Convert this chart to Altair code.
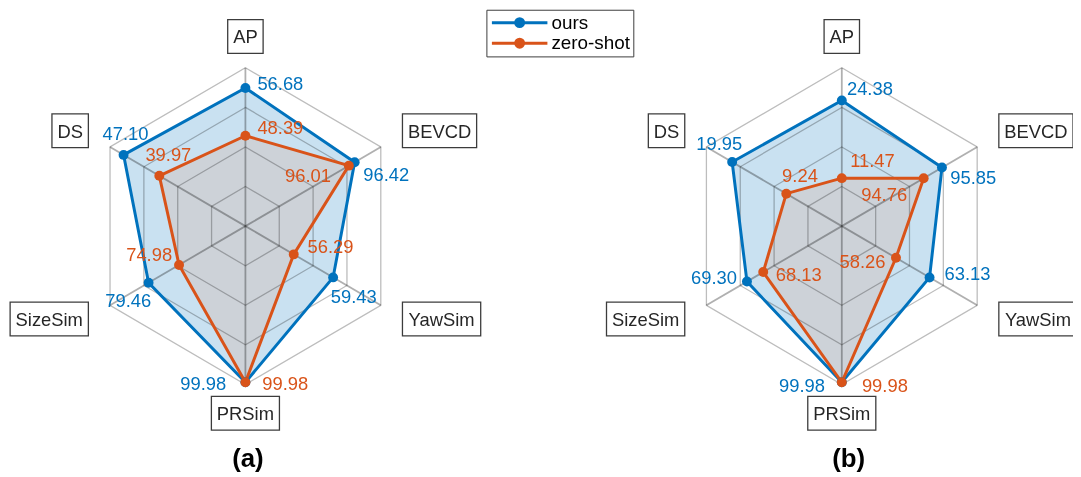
import math
import altair as alt
import pandas as pd

# ---------------- data ----------------
axes_names = ["AP", "BEVCD", "YawSim", "PRSim", "SizeSim", "DS"]
series_names = ["ours", "zero-shot"]
panel_names = ["(a)", "(b)"]

ours_a = [56.68, 96.42, 59.43, 99.98, 79.46, 47.10]
zeroshot_a = [48.39, 96.01, 56.29, 99.98, 74.98, 39.97]
ours_b = [24.38, 95.85, 63.13, 99.98, 69.30, 19.95]
zeroshot_b = [11.47, 94.76, 58.26, 99.98, 68.13, 9.24]

# per-axis limits of each radar (value -> radius)
axis_min_a = [32.72, 88.73, 52.44, 98.50, 65.22, 22.80]
axis_max_a = [60.17, 98.26, 63.23, 100.00, 85.13, 49.80]
axis_min_b = [3.50, 89.88, 50.40, 98.50, 62.47, -1.74]
axis_max_b = [29.79, 97.95, 70.04, 100.00, 72.22, 25.04]

grid_levels = [0.25, 0.5, 0.75, 1.0]
series_colors = ["#0072BD", "#D95319"]

# ---------------- layout ----------------
W, H = 1073, 469
PX_X, PX_Y = 157.5, 159.5           # pixels per radius unit
PANEL_SHIFT = 3.815                  # horizontal distance between radar centres
X_MIN = -1.5187
Y_MAX = 1.3668
X_MAX = X_MIN + W / PX_X
Y_MIN = Y_MAX - H / PX_Y
FONT = "Liberation Sans"
LABEL_SIZE = 18.5

# value-label offsets (px, text centre relative to its marker), axis order as axes_names
label_offsets = {
    (0, 0): [(35.2, -5), (31.9, 11.6), (20.8, 19), (-42.5, 1), (-20.5, 17.6), (1.9, -22.3)],
    (0, 1): [(35.2, -8.3), (-41.2, 9.7), (37, -8.3), (40.2, 1), (-30.1, -10.7), (9.1, -21.7)],
    (1, 0): [(28.3, -12.6), (31.5, 10), (38.2, -4.3), (-40.1, 2.7), (-33.2, -4.3), (-13, -19.3)],
    (1, 1): [(30.9, -18.4), (-39.8, 16), (-33.7, 3.3), (43.4, 2.7), (35.8, 1.6), (13.8, -19)],
}
title_dx = [2.5, 7.0]
TITLE_Y_PX = 461

# Arial / Liberation Sans advance widths (1/1000 em) to size the label boxes
CHAR_W = {"A": 667, "P": 667, "B": 667, "E": 667, "V": 667, "C": 722, "D": 722,
          "Y": 667, "a": 556, "w": 722, "S": 667, "i": 222, "m": 833, "R": 722,
          "z": 500, "e": 556}


def text_width(s, size):
    return sum(CHAR_W.get(c, 556) for c in s) / 1000.0 * size


values = {(0, 0): ours_a, (0, 1): zeroshot_a, (1, 0): ours_b, (1, 1): zeroshot_b}
limits = {0: (axis_min_a, axis_max_a), 1: (axis_min_b, axis_max_b)}
angles = [i * 2 * math.pi / len(axes_names) for i in range(len(axes_names))]

rows = []
for p, pname in enumerate(panel_names):
    lo, hi = limits[p]
    cx = p * PANEL_SHIFT
    for s, sname in enumerate(series_names):
        vals = values[(p, s)]
        for i, a in enumerate(axes_names):
            r = (vals[i] - lo[i]) / (hi[i] - lo[i])
            x = cx + r * math.sin(angles[i])
            y = r * math.cos(angles[i])
            dx, dy = label_offsets[(p, s)][i]
            rows.append(dict(panel=pname, series=sname, axis=a, idx=i, value=vals[i],
                             x=x, y=y, lx=x + dx / PX_X, ly=y - (dy + 1) / PX_Y,
                             text=f"{vals[i]:.2f}"))
df = pd.DataFrame(rows)
df_ours = df[df.series == "ours"]
df_zs = df[df.series == "zero-shot"]

ring_rows, spoke_rows, box_rows, title_rows = [], [], [], []
for p, pname in enumerate(panel_names):
    cx = p * PANEL_SHIFT
    for lv in grid_levels:
        for i, a in enumerate(axes_names):
            ring_rows.append(dict(panel=pname, level=lv, idx=i,
                                  x=cx + lv * math.sin(angles[i]), y=lv * math.cos(angles[i])))
    for i, a in enumerate(axes_names):
        spoke_rows.append(dict(panel=pname, axis=a, x=cx, y=0.0,
                               x2=cx + math.sin(angles[i]), y2=math.cos(angles[i])))
        sx, cy_ = math.sin(angles[i]), math.cos(angles[i])
        bw = (text_width(a, LABEL_SIZE) + 11) / PX_X
        bh = 17.0 / PX_Y
        ax_ = cx + 1.16 * sx
        ay_ = 1.19 * cy_ + 0.008
        if sx > 0.01:
            left = ax_
        elif sx < -0.01:
            left = ax_ - bw
        else:
            left = ax_ - bw / 2
        box_rows.append(dict(panel=pname, axis=a, bx=left, bx2=left + bw,
                             by=ay_ - bh, by2=ay_ + bh, tx=left + bw / 2, ty=ay_ - 1 / PX_Y))
    title_rows.append(dict(panel=pname, x=cx + title_dx[p] / PX_X,
                           y=-(TITLE_Y_PX - 226) / PX_Y))

df_ring = pd.DataFrame(ring_rows)
df_spoke = pd.DataFrame(spoke_rows)
df_box = pd.DataFrame(box_rows)
df_title = pd.DataFrame(title_rows)

xs = alt.Scale(domain=[X_MIN, X_MAX], nice=False, zero=False)
ys = alt.Scale(domain=[Y_MIN, Y_MAX], nice=False, zero=False)
color_scale = alt.Scale(domain=series_names, range=series_colors)

legend_path = ("M-3.29,0H3.29M-0.47,0A0.47,0.47,0,1,1,0.47,0"
               "A0.47,0.47,0,1,1,-0.47,0Z")
legend = alt.Legend(
    orient="none", legendX=482, legendY=0, title=None,
    symbolType=legend_path, symbolSize=289, symbolStrokeWidth=3,
    symbolOffset=20.5, labelOffset=22,
    symbolFillColor=alt.ExprRef(expr="scale('color', datum.value)"),
    labelFont=FONT, labelFontSize=19, labelColor="black",
    strokeColor="#3c3c3c", fillColor="white", padding=3, rowPadding=0.7,
)

X = alt.X("x:Q", scale=xs, axis=None)
Y = alt.Y("y:Q", scale=ys, axis=None)

fill_ours = alt.Chart(df_ours).mark_line(
    interpolate="linear-closed", fill="#c9e1f1", strokeOpacity=0
).encode(x=X, y=Y, detail="panel:N", order="idx:Q")

fill_zs = alt.Chart(df_zs).mark_line(
    interpolate="linear-closed", fill="#cdd2d8", strokeOpacity=0
).encode(x=X, y=Y, detail="panel:N", order="idx:Q")

rings = alt.Chart(df_ring).mark_line(
    interpolate="linear-closed", color="#bdbdbd", strokeWidth=1.3, blend="multiply"
).encode(x=X, y=Y, detail=alt.Detail(["panel:N", "level:Q"]), order="idx:Q")

spokes = alt.Chart(df_spoke).mark_rule(
    color="#b0b0b0", strokeWidth=1.8, blend="multiply"
).encode(x=X, y=Y, x2="x2:Q", y2="y2:Q")

outlines = alt.Chart(df).mark_line(interpolate="linear-closed", strokeWidth=3).encode(
    x=X, y=Y,
    color=alt.Color("series:N", scale=color_scale, legend=legend),
    detail="panel:N", order="idx:Q",
)

points = alt.Chart(df).mark_circle(size=100, opacity=1).encode(
    x=X, y=Y, color=alt.Color("series:N", scale=color_scale, legend=None),
)

value_text = alt.Chart(df).mark_text(
    font=FONT, fontSize=LABEL_SIZE, align="center", baseline="middle"
).encode(
    x=alt.X("lx:Q", scale=xs, axis=None), y=alt.Y("ly:Q", scale=ys, axis=None),
    text="text:N",
    color=alt.Color("series:N", scale=color_scale, legend=None),
)

boxes = alt.Chart(df_box).mark_rect(fill="white", stroke="#3c3c3c", strokeWidth=1.3).encode(
    x=alt.X("bx:Q", scale=xs, axis=None), x2="bx2:Q",
    y=alt.Y("by:Q", scale=ys, axis=None), y2="by2:Q",
)

box_text = alt.Chart(df_box).mark_text(
    font=FONT, fontSize=LABEL_SIZE, align="center", baseline="middle", color="#262626"
).encode(
    x=alt.X("tx:Q", scale=xs, axis=None), y=alt.Y("ty:Q", scale=ys, axis=None), text="axis:N",
)

titles = alt.Chart(df_title).mark_text(
    font=FONT, fontSize=26, fontWeight="bold", align="center", baseline="middle", color="black"
).encode(x=X, y=Y, text="panel:N")

chart = alt.layer(
    fill_ours, fill_zs, rings, spokes, outlines, points, value_text, boxes, box_text, titles
).properties(
    width=W, height=H, padding=0, autosize=alt.AutoSizeParams(type="none")
).configure_view(strokeWidth=0)

chart.save("out.html", embed_options={"renderer": "svg", "actions": False})
